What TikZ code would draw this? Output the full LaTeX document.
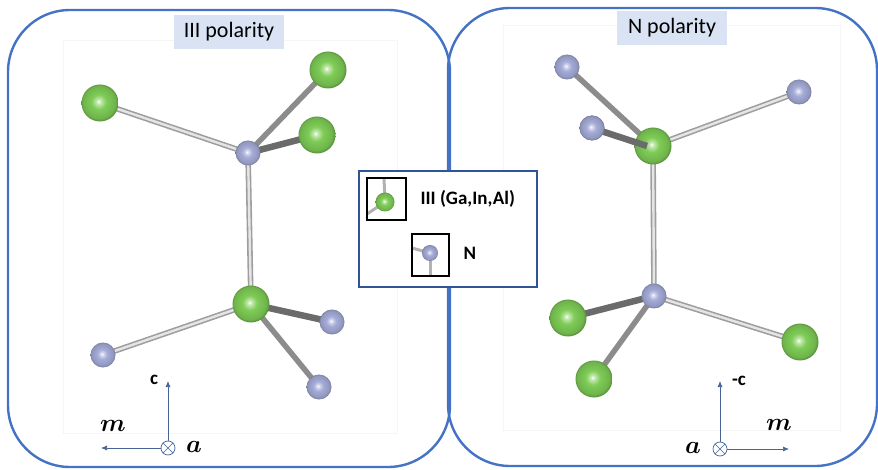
\documentclass[tikz,border=0pt]{standalone}
\usepackage{amsmath,amssymb,bm}
\usepackage{fontspec}
\setmainfont{Carlito}
\usetikzlibrary{arrows.meta}

\definecolor{panelblue}{RGB}{68,114,196}
\definecolor{legendblue}{RGB}{47,85,151}
\definecolor{titlefill}{RGB}{218,227,243}
\definecolor{atomG}{RGB}{126,204,86}
\definecolor{atomN}{RGB}{164,171,215}
\definecolor{axisblue}{RGB}{70,100,150}

\pgfdeclareradialshading{IIIball}{\pgfpoint{-2bp}{2bp}}{color(0bp)=(white); color(3bp)=(atomG!45!white); color(10bp)=(atomG); color(22bp)=(atomG!88!black); color(25bp)=(atomG!72!black); color(50bp)=(atomG!72!black)}
\pgfdeclareradialshading{Nball}{\pgfpoint{-2bp}{2bp}}{color(0bp)=(white); color(3bp)=(atomN!45!white); color(10bp)=(atomN); color(22bp)=(atomN!88!black); color(25bp)=(atomN!72!black); color(50bp)=(atomN!72!black)}

\tikzset{
  panel/.style={draw=panelblue, line width=2.4pt, rounded corners=62pt},
  frame/.style={draw=black!4, line width=0.6pt},
  title/.style={fill=titlefill, minimum width=110pt, minimum height=34pt, inner sep=0pt, font=\fontsize{22}{24}\selectfont},
  IIIatom/.style={circle, inner sep=0pt, minimum size=37pt, shading=IIIball},
  Natom/.style={circle, inner sep=0pt, minimum size=25pt, shading=Nball},
  bondlight/.style={draw=black!38, double=black!10, double distance=2.4pt, line width=1.6pt},
  bondmid/.style={draw=black!45, line width=5.5pt},
  bonddark/.style={draw=black!58, line width=6.5pt},
  keybox/.style={draw, line width=1.2pt, inner sep=0pt},
  keystub/.style={draw=black!30, line width=3pt},
  keytext/.style={font=\bfseries\fontsize{19}{21}\selectfont, anchor=west},
  axis/.style={draw=axisblue, line width=0.7pt, -{Latex[length=6pt,width=5pt]}},
  axislabel/.style={font=\bfseries\fontsize{19}{21}\selectfont},
  mathlabel/.style={font=\fontsize{24}{26}\selectfont}
}

\begin{document}
\begin{tikzpicture}[x=1pt,y=-1pt]
\useasboundingbox (0,0) rectangle (878,470);
% panels
\draw[panel] (8,10) rectangle (450,467);
\draw[panel] (448,8) rectangle (877,466);
\draw[frame] (63,40) rectangle (397,433);
\draw[frame] (503,25) rectangle (840,430);
\node[title] (tIII) at (229,32) {III polarity};
\node[title] (tN) at (672,28) {N polarity};

% III polarity
\coordinate (lN1) at (248,153);
\coordinate (lG1) at (100,103);
\coordinate (lG2) at (328,70);
\coordinate (lG3) at (317,135);
\coordinate (lG4) at (251,304);
\coordinate (lN2) at (332,322);
\coordinate (lN3) at (103,355);
\coordinate (lN4) at (319,387);
\draw[bondlight] (lG1) -- (lN1);
\draw[bondmid] (lG2) -- (lN1);
\draw[bonddark] (lG3) -- (lN1);
\draw[bondlight] (lN1) -- (lG4);
\draw[bondlight] (lG4) -- (lN3);
\draw[bonddark] (lG4) -- (lN2);
\draw[bondmid] (lG4) -- (lN4);
\foreach \a in {lG1,lG2,lG3,lG4}
  \node[IIIatom] (\a-ball) at (\a) {};
\foreach \a in {lN1,lN2,lN3,lN4}
  \node[Natom] (\a-ball) at (\a) {};

% N polarity
\coordinate (rG1) at (653,146);
\coordinate (rN1) at (567,67);
\coordinate (rN2) at (799,92);
\coordinate (rN3) at (592,128);
\coordinate (rN4) at (654,296);
\coordinate (rG2) at (568,318);
\coordinate (rG3) at (800,342);
\coordinate (rG4) at (594,379);
\draw[bondmid] (rN1) -- (rG1);
\draw[bondlight] (rN2) -- (rG1);
\draw[bondlight] (rG1) -- (rN4);
\draw[bonddark] (rN4) -- (rG2);
\draw[bondlight] (rN4) -- (rG3);
\draw[bondmid] (rN4) -- (rG4);
\foreach \a in {rG1,rG2,rG3,rG4}
  \node[IIIatom] (\a-ball) at (\a) {};
\foreach \a in {rN1,rN2,rN3,rN4}
  \node[Natom] (\a-ball) at (\a) {};
\draw[bonddark] (rN3) -- ([xshift=-6pt]rG1);
\node[Natom] at (rN3) {};

% legend
\draw[draw=legendblue, line width=2pt, fill=white] (359,171) rectangle (537,287);
\coordinate (kGtop) at (384,178);
\coordinate (kGleft) at (367,214);
\coordinate (kG) at (385,202);
\draw[keystub] (kGtop) -- (kG);
\draw[keystub] (kGleft) -- (kG);
\node[IIIatom, minimum size=19pt] (kGball) at (kG) {};
\node[keybox, minimum width=39pt, minimum height=42pt] (kIII) at (386.5,199) {};
\coordinate (kNleft) at (412,248);
\coordinate (kNbot) at (430,276);
\coordinate (kN) at (430,253);
\draw[keystub] (kNleft) -- (kN);
\draw[keystub] (kNbot) -- (kN);
\node[Natom, minimum size=16pt] (kNball) at (kN) {};
\node[keybox, minimum width=37pt, minimum height=42pt] (kNbox) at (430.5,255) {};
\node[keytext] (kIIItext) at (417,199) {III (Ga,In,Al)};
\node[keytext] (kNtext) at (460,253) {N};

% axes
\node[circle, draw=axisblue, line width=0.7pt, minimum size=14pt, inner sep=0pt] (lO) at (168,448) {};
\draw[axisblue, line width=0.6pt] (lO.45) -- (lO.225) (lO.135) -- (lO.315);
\coordinate (lc) at (168,381);
\coordinate (lm) at (101,448);
\draw[axis] (lO.north) -- (lc);
\draw[axis] (lO.west) -- (lm);
\node[axislabel] (lcl) at (154,380) {c};
\node[mathlabel] (lml) at (113,426) {$\boldsymbol{m}$};
\node[mathlabel] (lal) at (194,447) {$\boldsymbol{a}$};

\node[circle, draw=axisblue, line width=0.7pt, minimum size=14pt, inner sep=0pt] (rO) at (720,449) {};
\draw[axisblue, line width=0.6pt] (rO.45) -- (rO.225) (rO.135) -- (rO.315);
\coordinate (rc) at (720,381);
\coordinate (rm) at (789,449);
\draw[axis] (rO.north) -- (rc);
\draw[axis] (rO.east) -- (rm);
\node[axislabel] (rcl) at (739,381) {-c};
\node[mathlabel] (rml) at (779,425) {$\boldsymbol{m}$};
\node[mathlabel] (ral) at (693,448) {$\boldsymbol{a}$};
\end{tikzpicture}
\end{document}
